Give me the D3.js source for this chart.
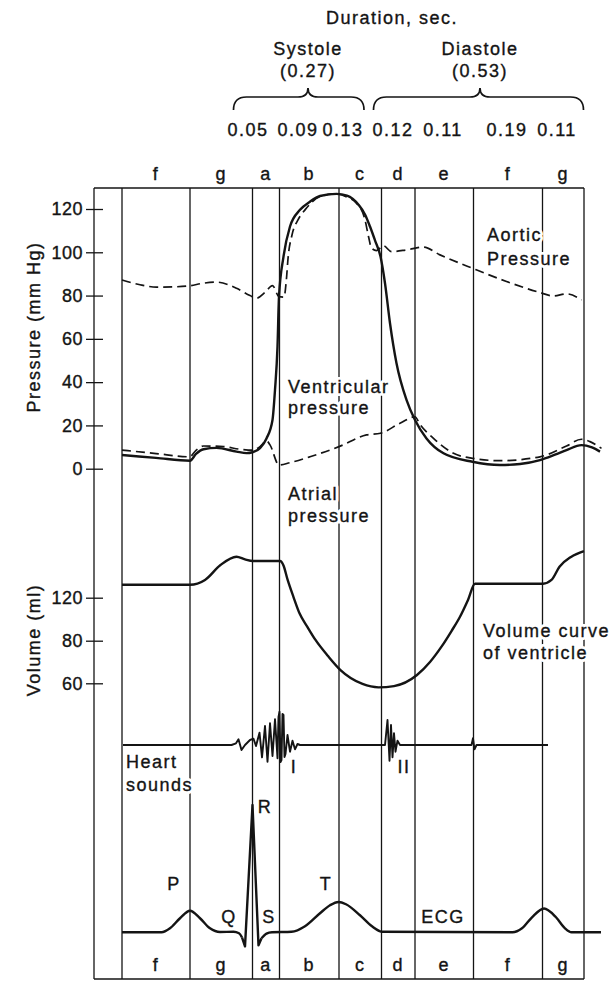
<!DOCTYPE html>
<html>
<head>
<meta charset="utf-8">
<script src="https://cdn.jsdelivr.net/npm/d3@7"></script>
<style>
  body { margin: 0; background: #fff; }
  svg text { font-family: "Liberation Sans", Arial, sans-serif; font-size: 18px; letter-spacing: 1.5px; fill: #141414; stroke: #141414; stroke-width: 0.35px; }
  svg .tick text { letter-spacing: 0.5px; }
  svg text.halo { fill: #fff; stroke: #fff; stroke-width: 6px; stroke-linejoin: round; }
</style>
</head>
<body>
<div id="chart"></div>
<script>
// Phase edges on the diagram time axis (diagram units, not to scale in seconds)
const phaseEdges = [5.6, 19.2, 31.7, 37.1, 49.0, 57.5, 64.2, 75.9, 89.7, 98];
const phaseLetters = ["f", "g", "a", "b", "c", "d", "e", "f", "g"];
const durations = ["0.05", "0.09", "0.13", "0.12", "0.11", "0.19", "0.11"];
const cycleParts = ["Systole", "Diastole"];
const cycleTotals = ["(0.27)", "(0.53)"];

const pressureTicks = [0, 20, 40, 60, 80, 100, 120];
const volumeTicks = [60, 80, 120];

// Pressures, mm Hg  [t, value]
const aorticPressure = [
  [5.6, 87.2], [9.2, 85], [12.5, 83.9], [15.6, 84.0], [19.1, 84.5], [21.8, 85.7], [24.5, 86.2],
  [28.5, 83.4], [31.2, 80], [32.5, 78.8], [34.2, 81.5], [35.7, 84.6], [37.0, 79.5], [38.0, 79.3],
  [38.5, 88], [38.8, 97], [39.6, 108], [40.8, 115], [42.2, 119.6], [45.2, 125.7], [48.5, 127],
  [50.6, 125.5], [52.5, 122.7], [54.2, 115], [54.9, 107.3], [55.5, 101.9], [56.5, 100.8],
  [57.9, 103], [59.5, 100.3], [62.5, 101.1], [65.9, 102.4], [69.2, 98.8], [75.7, 92.6],
  [82.5, 86.5], [89.2, 81.4], [91.9, 79.8], [94.5, 80.8], [97.5, 78]
];
const ventricularPressure = [
  [5.6, 6.3], [12.4, 5.0], [19.2, 3.7], [20.4, 6.8], [21.9, 9.0], [24.5, 9.6], [28.5, 7.9],
  [30.5, 7.2], [31.7, 7.6], [33.2, 9.5], [34.5, 14], [35.7, 22.5], [36.2, 36.4], [36.7, 56.4],
  [37.0, 79.5], [37.9, 98], [39.2, 111.9], [41.2, 119.6], [43.2, 123.4], [45.2, 126], [48.5, 127],
  [50.6, 126.2], [52.9, 122], [54.2, 117.5], [55.2, 111.9], [56.2, 105.5], [57.3, 98], [58.2, 85.7],
  [59.2, 67.2], [60.5, 48.7], [62.5, 31.8], [64.2, 22.5], [66.5, 14], [69.9, 7.1], [75.7, 3.2],
  [81.2, 1.7], [85.2, 2.2], [89.2, 4], [92.2, 6.5], [94.5, 8.6], [97.5, 10.9], [99.6, 9.8], [101.2, 7.9]
];
const atrialPressure = [
  [5.6, 8.6], [12.4, 7.0], [19.1, 5.5], [20.4, 8.5], [21.9, 10.5], [25.9, 10.2], [29.2, 9.0],
  [31.7, 8.6], [33.2, 10.2], [34.5, 12.9], [35.2, 11], [37.0, 1.7], [39.2, 2.8], [43.2, 5.5],
  [49.0, 10.2], [54.5, 15.6], [57.3, 16.4], [61.2, 21], [64.2, 24], [65.2, 20.5], [67.9, 14],
  [71.9, 7.1], [75.7, 4.8], [81.2, 3.7], [89.2, 5.5], [94.5, 10.5], [97.5, 13.6], [99.2, 12.5], [101.5, 9.4]
];

// Ventricular volume, ml
const ventricleVolume = [
  [5.6, 132], [19.2, 132], [22.2, 136.5], [25.3, 150.4], [28.5, 158.1], [30.2, 155.6], [31.8, 154.1],
  [37.2, 154.1], [37.9, 150], [38.7, 137], [39.9, 120.6], [41.1, 105.5], [42.7, 92.7], [44.3, 80.7],
  [46.8, 72.8], [49.3, 66.2], [53.7, 59.7], [56.9, 58.1], [60.0, 58.7], [64.6, 63.9], [67.2, 70],
  [69.5, 77.2], [71.5, 89], [73.2, 102.3], [74.8, 117.9], [76.2, 133], [89.8, 133], [91.5, 136.5],
  [93.1, 148.8], [95.4, 157.9], [98, 163.4]
];

// Phonocardiogram, arbitrary units
const heartSounds = [
  [5.8, 0], [27.5, 0], [28.4, 1.7], [28.9, 5.7], [29.5, -5], [30.2, 0], [31.2, 5], [31.9, 6.3],
  [32.4, -1], [33.1, 12.3], [33.6, -12.3], [34.2, 19], [34.7, -16.7], [35.2, 21.7], [35.7, -11],
  [36.2, 25.7], [36.7, -13.3], [36.9, 28], [37.1, 33.3], [37.3, -17], [37.5, -15], [37.7, 31],
  [37.9, 30], [38.1, -12], [38.3, -9], [38.7, 10], [39.2, -6.7], [39.7, 4.3], [40.2, -4.3],
  [40.7, 1], [41.2, 0], [58.2, 0], [58.7, 25], [59.1, -15.7], [59.4, 20], [59.7, -12.3],
  [60.0, 11.7], [60.3, -6.7], [60.7, 4.3], [61.2, 0], [75.5, 0], [75.8, 6.7], [76.1, -4.3],
  [76.5, 0], [90.8, 0]
];

// ECG, mV
const ecgBeforeQrs = [
  [5.6, 0], [13.5, 0], [15.2, 0.04], [17.2, 0.14], [19.2, 0.215], [21.2, 0.14], [23.2, 0.04],
  [25.2, 0.003], [27.9, 0.005], [29.0, -0.01], [29.6, -0.05]
];
const ecgQrs = [[29.6, -0.05], [30.2, -0.14], [31.7, 1.27], [32.9, -0.13], [33.5, -0.06]];
const ecgAfterQrs = [
  [33.5, -0.06], [34.5, -0.013], [35.6, 0], [39.5, 0.005], [42.2, 0.06], [45.2, 0.19], [47.2, 0.27],
  [48.9, 0.303], [50.4, 0.28], [53.2, 0.17], [55.6, 0.06], [57.7, 0.005], [83.7, 0], [85.6, 0.04],
  [87.6, 0.15], [90.0, 0.237], [92.4, 0.15], [94.2, 0.04], [95.5, 0], [101.4, 0]
];

const width = 615, height = 981;
const box = { left: 94, right: 584, top: 188, bottom: 979 };
const ink = "#141414";

const svg = d3.select("#chart").append("svg")
  .attr("width", width)
  .attr("height", height);

// Scales
const x = d3.scaleLinear().domain([0, 98]).range([box.left, box.right]);
const yP = d3.scaleLinear().domain([0, 120]).range([468.7, 209]);
const yV = d3.scaleLinear().domain([60, 80, 120]).range([683.3, 640.7, 597.7]); // axis is not linear in the figure
const ySound = d3.scaleLinear().domain([-40, 40]).range([785, 705]);
const yEcg = d3.scaleLinear().domain([0, 1.27]).range([932.3, 805]);

// Frame and phase lines
const frame = svg.append("g").attr("stroke", ink).attr("stroke-width", 1.3);
frame.append("line").attr("x1", box.left).attr("x2", box.right).attr("y1", box.top).attr("y2", box.top);
frame.append("line").attr("x1", box.left).attr("x2", box.right).attr("y1", box.bottom).attr("y2", box.bottom);
frame.append("line").attr("x1", box.left).attr("x2", box.left).attr("y1", box.top).attr("y2", box.bottom);
frame.selectAll("line.phase")
  .data(phaseEdges)
  .join("line")
  .attr("class", "phase")
  .attr("x1", d => x(d)).attr("x2", d => x(d))
  .attr("y1", box.top).attr("y2", box.bottom);

// Axes
function crossTicks(g) {
  g.select(".domain").remove();
  g.selectAll(".tick line").attr("stroke", ink).attr("stroke-width", 1.3).attr("x1", 9);
}
svg.append("g")
  .attr("transform", `translate(${box.left},0)`)
  .call(d3.axisLeft(yP).tickValues(pressureTicks).tickSizeInner(8).tickSizeOuter(0).tickPadding(3))
  .call(crossTicks);
svg.append("g")
  .attr("transform", `translate(${box.left},0)`)
  .call(d3.axisLeft(yV).tickValues(volumeTicks).tickSizeInner(8).tickSizeOuter(0).tickPadding(3))
  .call(crossTicks);

svg.append("text")
  .attr("transform", "translate(40,327) rotate(-90)")
  .attr("text-anchor", "middle")
  .text("Pressure (mm Hg)");
svg.append("text")
  .attr("transform", "translate(40,640) rotate(-90)")
  .attr("text-anchor", "middle")
  .text("Volume (ml)");

// Header: durations
svg.append("text").attr("x", x(59.6)).attr("y", 24).attr("text-anchor", "middle").text("Duration, sec.");
const partCenters = [42.8, 77.2];
const braceSpans = [[27.9, 54], [55.9, 97.9]];
cycleParts.forEach((name, i) => {
  svg.append("text").attr("x", x(partCenters[i])).attr("y", 55).attr("text-anchor", "middle").text(name);
  svg.append("text").attr("x", x(partCenters[i])).attr("y", 77).attr("text-anchor", "middle").text(cycleTotals[i]);
  const x1 = x(braceSpans[i][0]), x2 = x(braceSpans[i][1]), xm = x(partCenters[i]);
  const yEnd = 110, yMid = 97, yTip = 88;
  svg.append("path")
    .attr("fill", "none").attr("stroke", ink).attr("stroke-width", 1.7)
    .attr("d", `M${x1},${yEnd} Q${x1},${yMid} ${x1 + 13},${yMid} L${xm - 10},${yMid} Q${xm},${yMid} ${xm},${yTip}` +
               ` Q${xm},${yMid} ${xm + 10},${yMid} L${x2 - 13},${yMid} Q${x2},${yMid} ${x2},${yEnd}`);
});
const durationSlots = [30.8, 40.8, 49.8, 59.8, 69.8, 82.6, 92.6];
svg.selectAll("text.dur")
  .data(durations)
  .join("text")
  .attr("class", "dur")
  .attr("x", (d, i) => x(durationSlots[i]))
  .attr("y", 136)
  .attr("text-anchor", "middle")
  .text(d => d);

// Phase letters top and bottom
const phaseCenters = phaseLetters.map((d, i) => (phaseEdges[i] + phaseEdges[i + 1]) / 2);
[180, 971].forEach(yy => {
  svg.append("g").selectAll("text")
    .data(phaseLetters)
    .join("text")
    .attr("x", (d, i) => x(phaseCenters[i]))
    .attr("y", yy)
    .attr("text-anchor", "middle")
    .text(d => d);
});

// Curve labels: a white copy underneath breaks the phase lines like the original
function label(t, lines, y0, anchor = "start", step = 22) {
  ["halo", "ink"].forEach(cls => {
    const tx = svg.append("text").attr("class", cls).attr("text-anchor", anchor);
    lines.forEach((s, i) => {
      tx.append("tspan").attr("x", x(t)).attr("y", y0 + i * step).text(s);
    });
  });
}
label(78.6, ["Aortic", "Pressure"], 241, "start", 24);
label(38.8, ["Ventricular", "pressure"], 393, "start", 21);
label(38.8, ["Atrial", "pressure"], 500, "start", 22);
label(77.8, ["Volume curve", "of ventricle"], 637, "start", 22);
label(6.4, ["Heart", "sounds"], 768, "start", 23);
label(40, ["I"], 773, "middle");
label(62, ["II"], 773, "middle");
label(16, ["P"], 890, "middle");
label(27, ["Q"], 923, "middle");
label(34.2, ["R"], 813, "middle");
label(35, ["S"], 923, "middle");
label(46.4, ["T"], 890, "middle");
label(69.8, ["ECG"], 923, "middle");

// Curves
const smooth = d3.curveMonotoneX;
function trace(data, yScale, curve, width, dash) {
  svg.append("path")
    .datum(data)
    .attr("fill", "none")
    .attr("stroke", ink)
    .attr("stroke-width", width)
    .attr("stroke-linejoin", "round")
    .attr("stroke-dasharray", dash || null)
    .attr("d", d3.line().x(d => x(d[0])).y(d => yScale(d[1])).curve(curve));
}
trace(aorticPressure, yP, smooth, 1.7, "9,5");
trace(atrialPressure, yP, smooth, 1.7, "9,5");
trace(ventricularPressure, yP, smooth, 2.4);
trace(ventricleVolume, yV, smooth, 2.4);
trace(heartSounds, ySound, d3.curveLinear, 1.9);
trace(ecgBeforeQrs, yEcg, smooth, 2.4);
trace(ecgQrs, yEcg, d3.curveLinear, 2.4);
trace(ecgAfterQrs, yEcg, smooth, 2.4);
</script>
</body>
</html>
